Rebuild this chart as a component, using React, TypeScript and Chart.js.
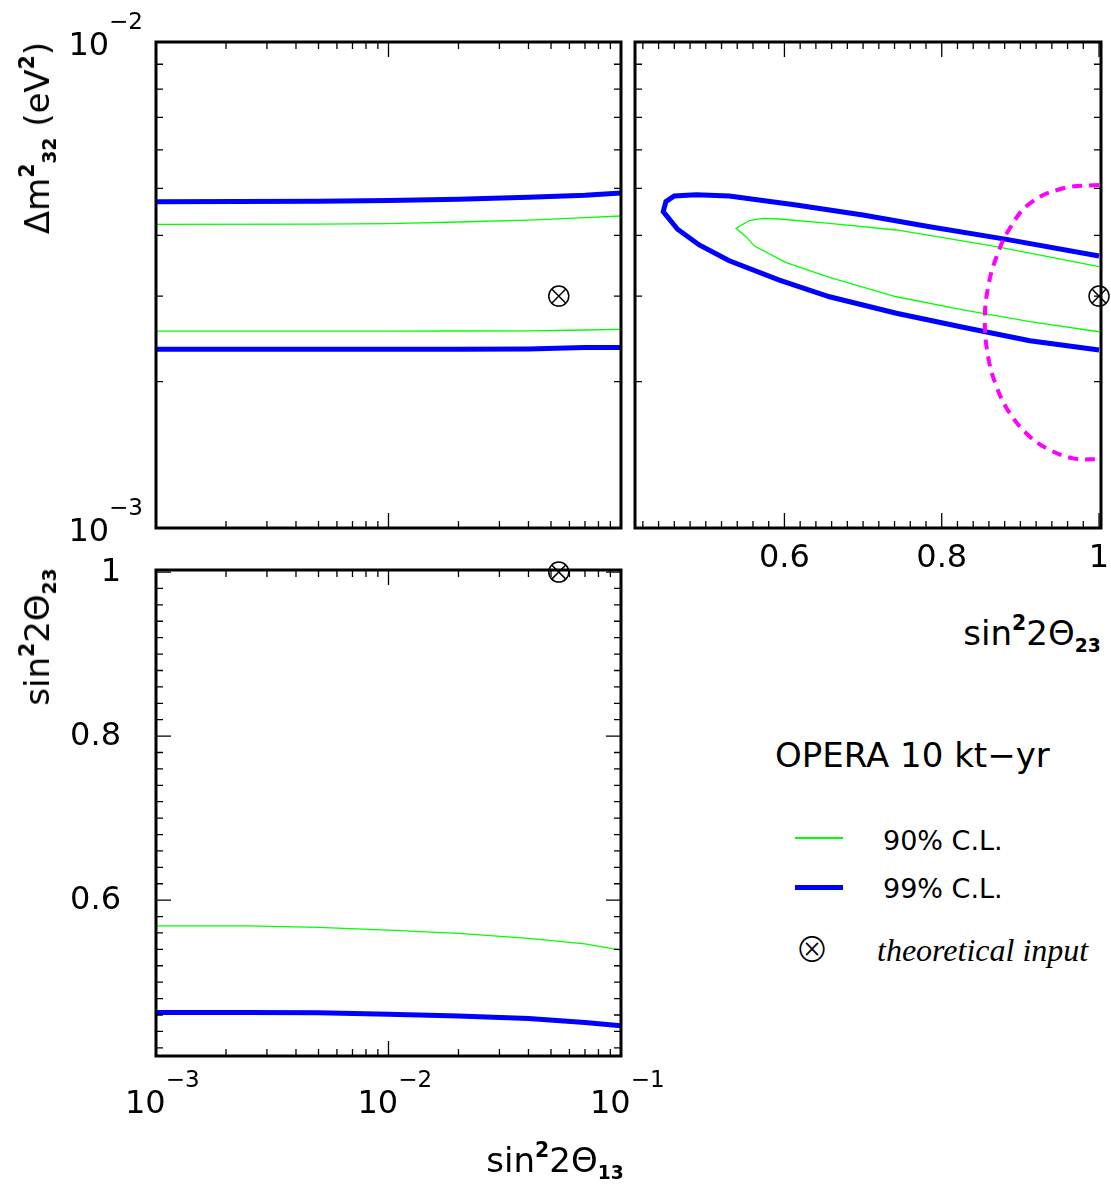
import React, { useEffect, useRef } from "react";
import { Chart, registerables } from "chart.js";

Chart.register(...registerables);

// ---------- tick lists ----------
const m2MajorTicks = [0.001, 0.01];
const m2MinorTicks = [0.002, 0.003, 0.004, 0.005, 0.006, 0.007, 0.008, 0.009];
const m2TickExps = ["\u22123", "\u22122"];

const s13MajorTicks = [0.001, 0.01, 0.1];
const s13MinorTicks = [0.002, 0.003, 0.004, 0.005, 0.006, 0.007, 0.008, 0.009, 0.02, 0.03, 0.04, 0.05, 0.06, 0.07, 0.08, 0.09];
const s13TickExps = ["\u22123", "\u22122", "\u22121"];

const s23MajorTicks = [0.6, 0.8, 1.0];
const s23MinorTicks = [0.42, 0.44, 0.46, 0.48, 0.5, 0.52, 0.54, 0.56, 0.58, 0.62, 0.64, 0.66, 0.68, 0.7, 0.72, 0.74, 0.76, 0.78, 0.82, 0.84, 0.86, 0.88, 0.9, 0.92, 0.94, 0.96, 0.98];
const s23TickLabels = ["0.6", "0.8", "1"];

// ---------- top-left: dm2 vs sin^2 2theta13 ----------
const tlX = [0.001, 0.005, 0.01, 0.02, 0.04, 0.07, 0.1];
const tlBlueUpper = [0.00469, 0.00470, 0.00472, 0.004746, 0.00479, 0.004838, 0.00489];
const tlGreenUpper = [0.004216, 0.00422, 0.004228, 0.004262, 0.004302, 0.00435, 0.004385];
const tlGreenLower = [0.002542, 0.002542, 0.002542, 0.002543, 0.002545, 0.002555, 0.002563];
const tlBlueLower = [0.002331, 0.002331, 0.002331, 0.002331, 0.002335, 0.002351, 0.002353];

// ---------- top-right: dm2 vs sin^2 2theta23 ----------
const trBlueX = [1.0, 0.8824, 0.7847, 0.6997, 0.6149, 0.5299, 0.4875, 0.4599, 0.4493, 0.4459, 0.4641, 0.4917, 0.5299, 0.5936, 0.6573, 0.7423, 0.8271, 0.9121, 1.0];
const trBlueY = [0.003628, 0.003926, 0.004169, 0.004406, 0.00462, 0.004822, 0.004852, 0.004822, 0.004694, 0.004476, 0.004118, 0.003823, 0.003548, 0.003237, 0.002991, 0.002766, 0.002588, 0.002429, 0.002324];
const trGreenX = [1.0, 0.8697, 0.7423, 0.6573, 0.5936, 0.5724, 0.5554, 0.5385, 0.5512, 0.5618, 0.6022, 0.6573, 0.7423, 0.8271, 0.9121, 1.0];
const trGreenY = [0.003449, 0.003791, 0.004104, 0.004236, 0.004323, 0.004337, 0.004288, 0.004138, 0.003976, 0.003803, 0.003515, 0.00328, 0.002991, 0.00281, 0.002658, 0.002534];
const trMagentaX = [1.0, 0.9545, 0.9121, 0.8866, 0.8697, 0.859, 0.8548, 0.859, 0.8697, 0.8866, 0.9121, 0.9376, 0.9673, 1.0];
const trMagentaY = [0.005079, 0.005, 0.004657, 0.004138, 0.003616, 0.003136, 0.002679, 0.002251, 0.001953, 0.001722, 0.001541, 0.001447, 0.001391, 0.001385];

// ---------- bottom-left: sin^2 2theta23 vs sin^2 2theta13 ----------
const blX = [0.001, 0.0025, 0.005, 0.01, 0.02, 0.04, 0.07, 0.1];
const blGreen = [0.5687, 0.5687, 0.5667, 0.5634, 0.5594, 0.5533, 0.5467, 0.539];
const blBlue = [0.463, 0.463, 0.4626, 0.461, 0.4589, 0.4557, 0.4508, 0.447];

// ---------- theoretical input ----------
const inputS13 = [0.054];
const inputS23 = [1.0];
const inputDm2 = [0.003];

const GREEN = "#00ff00";
const BLUE = "#0000ff";
const MAGENTA = "#ff00ff";
const FONT = "'DejaVu Sans', 'Liberation Sans', sans-serif";

const zip = (xs: number[], ys: number[]) => xs.map((x, i) => ({ x, y: ys[i] }));

type TickLabel = { v: number; text: string; exp?: string };
type FrameSpec = {
  xMajor: number[];
  xMinor: number[];
  yMajor: number[];
  yMinor: number[];
  xLabels: TickLabel[];
  yLabels: TickLabel[];
};

const framePlugin = {
  id: "frame",
  afterDatasetsDraw(chart: any, _args: any, opts: FrameSpec) {
    const { ctx, chartArea: a, scales } = chart;
    const xs = scales.x;
    const ys = scales.y;
    ctx.save();
    ctx.strokeStyle = "#000";
    ctx.lineWidth = 1.3;
    const xt = (vals: number[], len: number) => {
      vals.forEach((v) => {
        const px = xs.getPixelForValue(v);
        if (px < a.left + 1 || px > a.right - 1) return;
        ctx.beginPath();
        ctx.moveTo(px, a.bottom);
        ctx.lineTo(px, a.bottom - len);
        ctx.moveTo(px, a.top);
        ctx.lineTo(px, a.top + len);
        ctx.stroke();
      });
    };
    const yt = (vals: number[], len: number) => {
      vals.forEach((v) => {
        const py = ys.getPixelForValue(v);
        if (py < a.top + 1 || py > a.bottom - 1) return;
        ctx.beginPath();
        ctx.moveTo(a.left, py);
        ctx.lineTo(a.left + len, py);
        ctx.moveTo(a.right, py);
        ctx.lineTo(a.right - len, py);
        ctx.stroke();
      });
    };
    xt(opts.xMinor, 7);
    xt(opts.xMajor, 15);
    yt(opts.yMinor, 7);
    yt(opts.yMajor, 15);
    ctx.lineWidth = 3;
    ctx.strokeRect(a.left, a.top, a.right - a.left, a.bottom - a.top);

    ctx.fillStyle = "#000";
    const big = `32px ${FONT}`;
    const small = `23px ${FONT}`;
    opts.xLabels.forEach((l) => {
      const px = xs.getPixelForValue(l.v);
      if (l.exp) {
        ctx.font = big;
        ctx.textAlign = "left";
        ctx.textBaseline = "alphabetic";
        const base = a.bottom + 57;
        const left = px - 31;
        ctx.fillText(l.text, left, base);
        const w = ctx.measureText(l.text).width;
        ctx.font = small;
        ctx.fillText(l.exp, left + w, base - 26);
      } else {
        ctx.font = big;
        ctx.textAlign = "center";
        ctx.textBaseline = "middle";
        ctx.fillText(l.text, px, a.bottom + 31);
      }
    });
    opts.yLabels.forEach((l) => {
      const py = ys.getPixelForValue(l.v);
      if (l.exp) {
        ctx.font = big;
        const w10 = ctx.measureText(l.text).width;
        ctx.font = small;
        const we = ctx.measureText(l.exp).width;
        const left = a.left - 13 - (w10 + we);
        const base = py + 12.5;
        ctx.textAlign = "left";
        ctx.textBaseline = "alphabetic";
        ctx.font = big;
        ctx.fillText(l.text, left, base);
        ctx.font = small;
        ctx.fillText(l.exp, left + w10, base - 26);
      } else {
        ctx.font = big;
        ctx.textAlign = "right";
        ctx.textBaseline = "middle";
        ctx.fillText(l.text, a.left - 35, py + 1);
      }
    });
    ctx.restore();
  },
};

const lineDs = (data: { x: number; y: number }[], color: string, width: number, extra: any = {}) => ({
  data,
  showLine: true,
  borderColor: color,
  backgroundColor: color,
  borderWidth: width,
  pointRadius: 0,
  tension: 0,
  fill: false,
  ...extra,
});

const markerDs = (x: number[], y: number[]) => [
  {
    data: zip(x, y),
    showLine: false,
    pointStyle: "circle",
    pointRadius: 10,
    borderColor: "#000",
    backgroundColor: "rgba(0,0,0,0)",
    borderWidth: 1.5,
    clip: false,
  },
  {
    data: zip(x, y),
    showLine: false,
    pointStyle: "crossRot",
    pointRadius: 10,
    borderColor: "#000",
    backgroundColor: "rgba(0,0,0,0)",
    borderWidth: 1.5,
    clip: false,
  },
];

function makeChart(canvas: HTMLCanvasElement, datasets: any[], scales: any, padding: any, frame: FrameSpec) {
  return new Chart(canvas, {
    type: "scatter",
    data: { datasets },
    options: {
      responsive: false,
      animation: false,
      devicePixelRatio: 1,
      events: [],
      layout: { padding, autoPadding: false },
      plugins: {
        legend: { display: false },
        tooltip: { enabled: false },
        // @ts-ignore
        frame,
      },
      scales,
    },
    plugins: [framePlugin as any],
  } as any);
}

const sup = (t: string) => (
  <span style={{ fontSize: "0.6em", fontWeight: "bold", position: "relative", top: "-0.75em" }}>{t}</span>
);
const sub = (t: string) => (
  <span style={{ fontSize: "0.55em", fontWeight: "bold", position: "relative", top: "0.35em" }}>{t}</span>
);

export default function App() {
  const tlRef = useRef<HTMLCanvasElement>(null);
  const trRef = useRef<HTMLCanvasElement>(null);
  const blRef = useRef<HTMLCanvasElement>(null);

  useEffect(() => {
    const logX13 = { type: "logarithmic", min: 0.001, max: 0.1, display: false };
    const logDm2 = { type: "logarithmic", min: 0.001, max: 0.01, display: false };
    const lin23 = { type: "linear", min: 0.41, max: 1.0025, display: false };

    const tl = makeChart(
      tlRef.current!,
      [
        lineDs(zip(tlX, tlBlueUpper), BLUE, 5),
        lineDs(zip(tlX, tlGreenUpper), GREEN, 1.3),
        lineDs(zip(tlX, tlGreenLower), GREEN, 1.3),
        lineDs(zip(tlX, tlBlueLower), BLUE, 5),
        ...markerDs(inputS13, inputDm2),
      ],
      { x: logX13, y: logDm2 },
      { left: 156, top: 42, right: 9, bottom: 17 },
      {
        xMajor: s13MajorTicks,
        xMinor: s13MinorTicks,
        yMajor: m2MajorTicks,
        yMinor: m2MinorTicks,
        xLabels: [],
        yLabels: m2MajorTicks.map((v, i) => ({ v, text: "10", exp: m2TickExps[i] })),
      }
    );

    const tr = makeChart(
      trRef.current!,
      [
        lineDs(zip(trMagentaX, trMagentaY), MAGENTA, 4, { borderDash: [10, 7], tension: 0.4 }),
        lineDs(zip(trBlueX, trBlueY), BLUE, 5),
        lineDs(zip(trGreenX, trGreenY), GREEN, 1.3),
        ...markerDs(inputS23, inputDm2),
      ],
      { x: lin23, y: logDm2 },
      { left: 5, top: 42, right: 10, bottom: 72 },
      {
        xMajor: s23MajorTicks,
        xMinor: s23MinorTicks,
        yMajor: m2MajorTicks,
        yMinor: m2MinorTicks,
        xLabels: s23MajorTicks.map((v, i) => ({ v, text: s23TickLabels[i] })),
        yLabels: [],
      }
    );

    const bl = makeChart(
      blRef.current!,
      [
        lineDs(zip(blX, blGreen), GREEN, 1.3),
        lineDs(zip(blX, blBlue), BLUE, 5),
        ...markerDs(inputS13, inputS23),
      ],
      { x: logX13, y: lin23 },
      { left: 156, top: 25, right: 59, bottom: 130 },
      {
        xMajor: s13MajorTicks,
        xMinor: s13MinorTicks,
        yMajor: s23MajorTicks,
        yMinor: s23MinorTicks,
        xLabels: s13MajorTicks.map((v, i) => ({ v, text: "10", exp: s13TickExps[i] })),
        yLabels: s23MajorTicks.map((v, i) => ({ v, text: s23TickLabels[i] })),
      }
    );

    return () => {
      tl.destroy();
      tr.destroy();
      bl.destroy();
    };
  }, []);

  const text: React.CSSProperties = {
    position: "absolute",
    fontFamily: FONT,
    color: "#000",
    whiteSpace: "nowrap",
    lineHeight: 1,
  };

  return (
    <div style={{ position: "absolute", left: 0, top: 0, width: 1111, height: 1186, background: "#fff", overflow: "hidden" }}>
      <canvas ref={tlRef} width={630} height={545} style={{ position: "absolute", left: 0, top: 0 }} />
      <canvas ref={trRef} width={481} height={600} style={{ position: "absolute", left: 630, top: 0 }} />
      <canvas ref={blRef} width={680} height={641} style={{ position: "absolute", left: 0, top: 545 }} />

      {/* y title top */}
      <div style={{ ...text, fontSize: 34, left: 37, top: 138, transform: "translate(-50%, -50%) rotate(-90deg)" }}>
        {"\u0394m"}
        {sup("2")}
        {sub("32")}
        {" (eV"}
        {sup("2")}
        {")"}
      </div>
      {/* y title bottom */}
      <div style={{ ...text, fontSize: 34, left: 37, top: 637, transform: "translate(-50%, -50%) rotate(-90deg)" }}>
        {"sin"}
        {sup("2")}
        {"2\u0398"}
        {sub("23")}
      </div>
      {/* x title top-right */}
      <div style={{ ...text, fontSize: 34, left: 1032, top: 633, transform: "translate(-50%, -50%)" }}>
        {"sin"}
        {sup("2")}
        {"2\u0398"}
        {sub("23")}
      </div>
      {/* x title bottom */}
      <div style={{ ...text, fontSize: 34, left: 555, top: 1160, transform: "translate(-50%, -50%)" }}>
        {"sin"}
        {sup("2")}
        {"2\u0398"}
        {sub("13")}
      </div>

      {/* legend */}
      <div style={{ ...text, fontSize: 34, left: 775, top: 755, transform: "translateY(-50%)" }}>OPERA 10 kt{"\u2212"}yr</div>
      <div style={{ position: "absolute", left: 795, top: 837, width: 48, height: 1.5, background: GREEN }} />
      <div style={{ ...text, fontSize: 27, left: 883, top: 840, transform: "translateY(-50%)" }}>90% C.L.</div>
      <div style={{ position: "absolute", left: 795, top: 885, width: 48, height: 5, background: BLUE }} />
      <div style={{ ...text, fontSize: 27, left: 883, top: 888, transform: "translateY(-50%)" }}>99% C.L.</div>
      <div style={{ ...text, fontFamily: "'Noto Sans CJK SC', 'DejaVu Sans', sans-serif", fontWeight: 300, fontSize: 34, left: 812, top: 948, transform: "translate(-50%, -50%)" }}>{"\u2297"}</div>
      <div style={{ ...text, fontFamily: "'Liberation Serif', 'Times New Roman', serif", fontStyle: "italic", fontSize: 32, left: 877, top: 950, transform: "translateY(-50%)" }}>theoretical input</div>
    </div>
  );
}
